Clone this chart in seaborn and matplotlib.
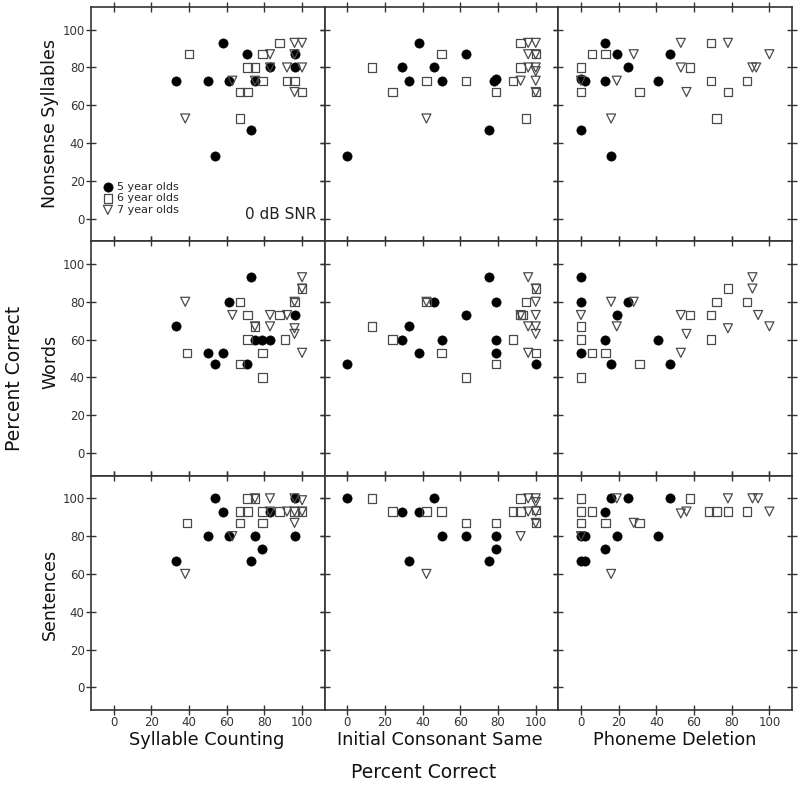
import matplotlib
matplotlib.use("Agg")
import matplotlib.pyplot as plt
import seaborn as sns
import pandas as pd

# ---------------- data (x = task score %, y = speech score %) ----------------
# Row: Nonsense Syllables
SC_NS_5 = [(58,93),(71,87),(33,73),(50,73),(61,73),(75,73),(83,80),(96,87),(96,80),(73,47),(54,33)]
SC_NS_6 = [(88,93),(40,87),(79,87),(71,80),(75,80),(79,73),(92,73),(96,73),(67,67),(71,67),(100,67),(67,53)]
SC_NS_7 = [(96,93),(100,93),(83,87),(96,87),(83,80),(92,80),(100,80),(63,73),(75,73),(96,67),(38,53)]

ICS_NS_5 = [(38,93),(63,87),(29,80),(46,80),(33,73),(50,73),(78,73),(79,74),(75,47),(0,33)]
ICS_NS_6 = [(92,93),(50,87),(13,80),(92,80),(42,73),(63,73),(88,73),(24,67),(79,67),(100,67),(100,87),(95,53)]
ICS_NS_7 = [(96,93),(100,93),(96,87),(100,87),(96,80),(100,80),(100,78),(92,73),(100,73),(100,67),(42,53)]

PD_NS_5 = [(13,93),(19,87),(47,87),(25,80),(0,74),(2,73),(13,73),(41,73),(0,47),(16,33)]
PD_NS_6 = [(6,87),(13,87),(69,93),(0,80),(58,80),(69,73),(88,73),(0,67),(31,67),(78,67),(72,53)]
PD_NS_7 = [(53,93),(78,93),(28,87),(100,87),(53,80),(91,80),(93,80),(0,73),(19,73),(56,67),(16,53)]

# Row: Words
SC_W_5 = [(73,93),(61,80),(96,73),(33,67),(75,60),(79,60),(83,60),(50,53),(58,53),(54,47),(71,47)]
SC_W_6 = [(67,80),(71,73),(88,73),(96,80),(100,87),(75,67),(71,60),(91,60),(39,53),(79,53),(67,47),(79,40)]
SC_W_7 = [(100,93),(100,87),(38,80),(96,80),(63,73),(83,73),(92,73),(75,67),(83,67),(96,66),(96,63),(100,53)]

ICS_W_5 = [(75,93),(46,80),(79,80),(63,73),(33,67),(29,60),(50,60),(79,60),(38,53),(79,53),(0,47),(100,47)]
ICS_W_6 = [(100,87),(42,80),(95,80),(92,73),(93,73),(13,67),(24,60),(88,60),(50,53),(100,53),(79,47),(63,40)]
ICS_W_7 = [(96,93),(100,87),(42,80),(100,80),(92,73),(100,73),(96,67),(100,67),(100,63),(96,53)]

PD_W_5 = [(0,93),(0,80),(25,80),(19,73),(13,60),(41,60),(0,53),(16,47),(47,47)]
PD_W_6 = [(78,87),(72,80),(88,80),(58,73),(69,73),(0,67),(0,60),(69,60),(6,53),(13,53),(31,47),(0,40)]
PD_W_7 = [(91,93),(91,87),(16,80),(28,80),(0,73),(53,73),(94,73),(19,67),(78,66),(100,67),(56,63),(53,53)]

# Row: Sentences
SC_S_5 = [(54,100),(96,100),(58,93),(83,93),(50,80),(61,80),(75,80),(96,80),(79,73),(33,67),(73,67)]
SC_S_6 = [(71,100),(75,100),(67,93),(71,93),(79,93),(88,93),(96,93),(100,93),(39,87),(67,87),(79,87)]
SC_S_7 = [(83,100),(96,100),(100,99),(75,100),(83,93),(92,93),(96,93),(100,93),(96,87),(63,80),(38,60)]

ICS_S_5 = [(0,100),(46,100),(29,93),(38,93),(50,80),(63,80),(79,80),(79,73),(33,67),(75,67)]
ICS_S_6 = [(13,100),(92,100),(24,93),(42,93),(50,93),(88,93),(92,93),(100,94),(63,87),(79,87),(100,87)]
ICS_S_7 = [(96,100),(100,100),(100,98),(96,93),(100,93),(100,87),(92,80),(42,60)]

PD_S_5 = [(16,100),(25,100),(47,100),(13,93),(0,80),(2,80),(19,80),(41,80),(13,73),(0,67),(2,67)]
PD_S_6 = [(0,100),(58,100),(0,93),(6,93),(68,93),(72,93),(78,93),(88,93),(0,87),(13,87),(31,87)]
PD_S_7 = [(19,100),(78,100),(91,100),(94,100),(53,92),(56,93),(100,93),(28,87),(0,80),(16,60)]

ROW_LABELS = ["Nonsense Syllables", "Words", "Sentences"]
COL_LABELS = ["Syllable Counting", "Initial Consonant Same", "Phoneme Deletion"]
GROUP_LABELS = ["5 year olds", "6 year olds", "7 year olds"]
TICKS = [0, 20, 40, 60, 80, 100]

PANELS = [
    [(SC_NS_5, SC_NS_6, SC_NS_7), (ICS_NS_5, ICS_NS_6, ICS_NS_7), (PD_NS_5, PD_NS_6, PD_NS_7)],
    [(SC_W_5, SC_W_6, SC_W_7), (ICS_W_5, ICS_W_6, ICS_W_7), (PD_W_5, PD_W_6, PD_W_7)],
    [(SC_S_5, SC_S_6, SC_S_7), (ICS_S_5, ICS_S_6, ICS_S_7), (PD_S_5, PD_S_6, PD_S_7)],
]

# ---------------- styling ----------------
sns.set_style("ticks")
plt.rcParams['font.family'] = ['DejaVu Sans']

STYLES = [
    dict(marker="o", s=44, color="black", edgecolor="black", linewidth=0.5),
    dict(marker="s", s=36, facecolors="none", edgecolor="#4a4a4a", linewidth=0.9),
    dict(marker="v", s=42, facecolors="none", edgecolor="#4a4a4a", linewidth=0.9),
]

fig, axes = plt.subplots(3, 3, figsize=(8.0, 7.88), dpi=100, sharex=True, sharey=True)
fig.subplots_adjust(left=91/800, right=792/800, top=1-7/788, bottom=1-710/788,
                    wspace=0, hspace=0)

for r in range(3):
    for c in range(3):
        ax = axes[r, c]
        for g, pts in enumerate(PANELS[r][c]):
            df = pd.DataFrame(pts, columns=["x", "y"])
            sns.scatterplot(data=df, x="x", y="y", ax=ax, zorder=3,
                            label=GROUP_LABELS[g] if (r == 0 and c == 0) else None,
                            legend=False, **STYLES[g])
        ax.set_xlim(-12, 112)
        ax.set_ylim(-12, 112)
        ax.set_xticks(TICKS)
        ax.set_yticks(TICKS)
        ax.set_xlabel("")
        ax.set_ylabel("")
        for sp in ax.spines.values():
            sp.set_visible(True)
            sp.set_color("#333333")
            sp.set_linewidth(1.2)
        ax.tick_params(axis="both", direction="inout", length=7, width=1.0,
                       color="#333333", top=True, right=True,
                       labelsize=8.5, labelcolor="#333333", pad=1)
        ax.tick_params(axis="x", labelbottom=(r == 2))
        ax.tick_params(axis="y", labelleft=(c == 0))

# legend & SNR note in first panel
ax0 = axes[0, 0]
ax0.legend(loc="lower left", bbox_to_anchor=(0.015, 0.08), frameon=False,
           fontsize=8, handletextpad=0.3, labelspacing=0.12, borderaxespad=0.3,
           handlelength=1.0)
ax0.text(0.965, 0.115, "0 dB SNR", transform=ax0.transAxes, ha="right",
         va="center", fontsize=11, color="#222222")

# row labels
row_centers = [124, 362, 594]
for lab, yc in zip(ROW_LABELS, row_centers):
    fig.text(50/800, 1 - yc/788, lab, rotation=90, ha="center", va="center",
             fontsize=12.5, color="#111111")

# column labels
col_centers = [(91 + 323) / 2, (323 + 557) / 2, (557 + 792) / 2]
for lab, xc in zip(COL_LABELS, col_centers):
    fig.text(xc/800, 1 - 740/788, lab, ha="center", va="center",
             fontsize=12.8, color="#111111")

fig.text(424/800, 1 - 773/788, "Percent Correct", ha="center", va="center",
         fontsize=13.5, color="#111111")
fig.text(15/800, 1 - 378/788, "Percent Correct", rotation=90, ha="center",
         va="center", fontsize=13.5, color="#111111")

fig.savefig("out.png", dpi=100, facecolor="white")
